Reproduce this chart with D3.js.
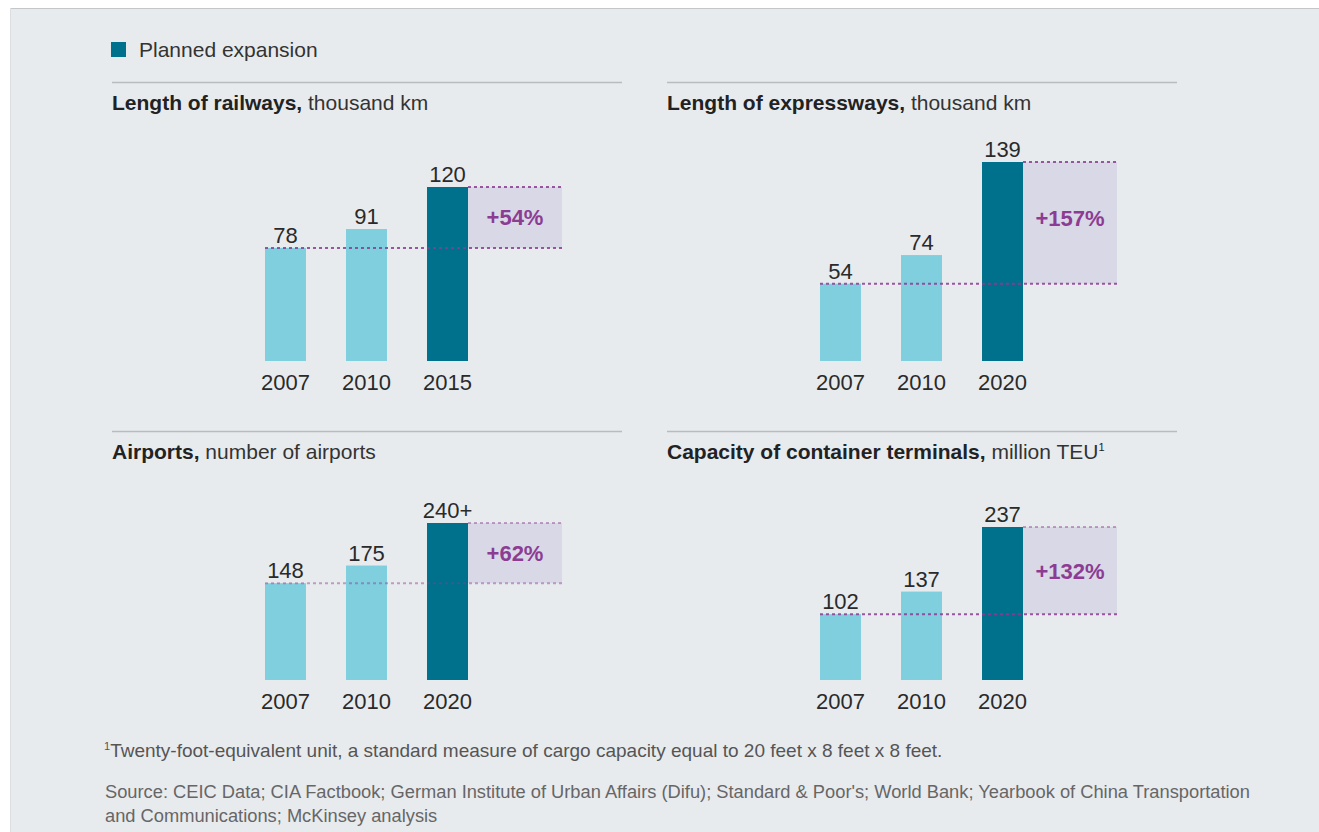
<!DOCTYPE html>
<html>
<head>
<meta charset="utf-8">
<script src="https://cdn.jsdelivr.net/npm/d3@7"></script>
<style>
  body { margin: 0; background: #fff; }
  svg text { font-family: "Liberation Sans", Arial, sans-serif; }
</style>
</head>
<body>
<div id="chart"></div>
<script>
// ---- data ----
const legendLabel = "Planned expansion"
const titleBold = ["Length of railways,", "Length of expressways,", "Airports,", "Capacity of container terminals,"]
const titleUnit = [" thousand km", " thousand km", " number of airports", " million TEU"]
const titleNote = ["", "", "", "1"]
const years = [
  ["2007", "2010", "2015"],
  ["2007", "2010", "2020"],
  ["2007", "2010", "2020"],
  ["2007", "2010", "2020"]
]
const values = [
  [78, 91, 120],
  [54, 74, 139],
  [148, 175, 240],
  [102, 137, 237]
]
const valueLabels = [
  ["78", "91", "120"],
  ["54", "74", "139"],
  ["148", "175", "240+"],
  ["102", "137", "237"]
]
const changeLabels = ["+54%", "+157%", "+62%", "+132%"]
const footnote = "Twenty-foot-equivalent unit, a standard measure of cargo capacity equal to 20 feet x 8 feet x 8 feet."
const sourceLines = [
  "Source: CEIC Data; CIA Factbook; German Institute of Urban Affairs (Difu); Standard & Poor's; World Bank; Yearbook of China Transportation",
  "and Communications; McKinsey analysis"
]

// ---- layout ----
const W = 1319, H = 832
const LIGHT = "#80cfdf", DARK = "#00718c", PURPLE = "#8c3c93", BOX = "#d8d8e6"
const COL_X = [112, 667]
const RULE_Y = [82, 431]
const BASE_Y = [361, 680]
// pixel height used for each panel's scale (per-panel scales like the original)
const SCALE_H = [174, 199, 157, 153]

const svg = d3.select("#chart").append("svg")
  .attr("width", W)
  .attr("height", H)

// background card
svg.append("rect")
  .attr("x", 10).attr("y", 8)
  .attr("width", W - 10).attr("height", H - 8)
  .attr("fill", "#e8ebee")
svg.append("line")
  .attr("x1", 10).attr("x2", W).attr("y1", 8.5).attr("y2", 8.5)
  .attr("stroke", "#c4c6c8")
svg.append("line")
  .attr("x1", 10.5).attr("x2", 10.5).attr("y1", 8).attr("y2", H)
  .attr("stroke", "#dcdfe2")

// legend
svg.append("rect")
  .attr("x", 111).attr("y", 42)
  .attr("width", 15).attr("height", 15)
  .attr("fill", DARK)
svg.append("text")
  .attr("x", 139).attr("y", 57)
  .attr("font-size", "21px")
  .attr("fill", "#333")
  .text(legendLabel)

values.forEach((vals, i) => {
  const col = i % 2, row = Math.floor(i / 2)
  const left = COL_X[col]
  const ruleY = RULE_Y[row]
  const base = BASE_Y[row]
  const g = svg.append("g")

  // rule + title
  g.append("line")
    .attr("x1", left).attr("x2", left + 510)
    .attr("y1", ruleY + 0.5).attr("y2", ruleY + 0.5)
    .attr("stroke", "#b9bcbf")
    .attr("stroke-width", 1.5)
  const title = g.append("text")
    .attr("x", left).attr("y", ruleY + 28)
    .attr("font-size", "21px")
    .attr("fill", "#222")
  title.append("tspan").attr("font-weight", "bold").text(titleBold[i])
  title.append("tspan").attr("fill", "#333").text(titleUnit[i])
  if (titleNote[i]) {
    title.append("tspan")
      .attr("font-size", "11px")
      .attr("dy", "-8")
      .text(titleNote[i])
  }

  // scales
  const x = d3.scaleBand()
    .domain(years[i])
    .range([left + 153, left + 356])
    .paddingInner(0.494)
    .paddingOuter(0)
  const y = d3.scaleLinear()
    .domain([0, d3.max(vals)])
    .range([base, base - SCALE_H[i]])

  const last = vals.length - 1
  const x0 = x(years[i][0])
  const xEnd = x(years[i][last]) + x.bandwidth()
  const boxR = xEnd + 94
  const yTop = y(vals[last]), yFirst = y(vals[0])

  // expansion box
  g.append("rect")
    .attr("x", xEnd).attr("y", yTop)
    .attr("width", boxR - xEnd).attr("height", yFirst - yTop)
    .attr("fill", BOX)

  // bars
  g.selectAll(".bar")
    .data(vals)
    .enter().append("rect")
    .attr("class", "bar")
    .attr("x", (d, j) => x(years[i][j]))
    .attr("y", d => y(d))
    .attr("width", x.bandwidth())
    .attr("height", d => base - y(d))
    .attr("fill", (d, j) => j === last ? DARK : LIGHT)

  // dotted guides
  g.append("line")
    .attr("x1", x0).attr("x2", boxR)
    .attr("y1", yFirst).attr("y2", yFirst)
    .attr("stroke", PURPLE)
    .attr("stroke-width", 2)
    .attr("stroke-dasharray", "3,3")
    .attr("opacity", row === 1 && col === 0 ? 0.45 : 0.85)
  g.append("line")
    .attr("x1", xEnd).attr("x2", boxR)
    .attr("y1", yTop).attr("y2", yTop)
    .attr("stroke", PURPLE)
    .attr("stroke-width", 2)
    .attr("stroke-dasharray", "3,3")
    .attr("opacity", row === 1 ? 0.45 : 0.85)

  // value labels
  g.selectAll(".val")
    .data(vals)
    .enter().append("text")
    .attr("class", "val")
    .attr("x", (d, j) => x(years[i][j]) + x.bandwidth() / 2)
    .attr("y", d => y(d) - 5)
    .attr("text-anchor", "middle")
    .attr("font-size", "22px")
    .attr("fill", "#2a2a2a")
    .text((d, j) => valueLabels[i][j])

  // year labels
  g.selectAll(".yr")
    .data(years[i])
    .enter().append("text")
    .attr("class", "yr")
    .attr("x", d => x(d) + x.bandwidth() / 2)
    .attr("y", base + 29)
    .attr("text-anchor", "middle")
    .attr("font-size", "22px")
    .attr("fill", "#2a2a2a")
    .text(d => d)

  // change label
  const mid = (yTop + yFirst) / 2
  g.append("text")
    .attr("x", (xEnd + boxR) / 2)
    .attr("y", Math.min(mid, yTop + 56) + 8)
    .attr("text-anchor", "middle")
    .attr("font-size", "22px")
    .attr("font-weight", "bold")
    .attr("fill", PURPLE)
    .text(changeLabels[i])
})

// footnote + source
const fn = svg.append("text")
  .attr("x", 104).attr("y", 757)
  .attr("font-size", "19px")
  .attr("fill", "#555")
fn.append("tspan").attr("font-size", "11px").attr("dy", "-7").text("1")
fn.append("tspan").attr("dy", "7").text(footnote)

svg.selectAll(".src")
  .data(sourceLines)
  .enter().append("text")
  .attr("class", "src")
  .attr("x", 105)
  .attr("y", (d, k) => 798 + k * 24)
  .attr("font-size", "18.3px")
  .attr("fill", "#666")
  .text(d => d)
</script>
</body>
</html>
